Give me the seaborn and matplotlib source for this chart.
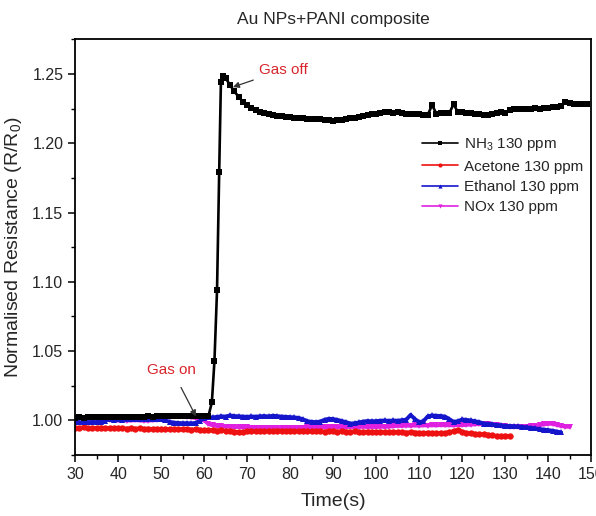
import numpy as np
import pandas as pd
import matplotlib
matplotlib.use("Agg")
import matplotlib.pyplot as plt
import seaborn as sns
from matplotlib.ticker import MultipleLocator

sns.set_style("ticks")
plt.rcParams['font.family'] = ['Liberation Sans', 'DejaVu Sans']
plt.rcParams['mathtext.fontset'] = 'custom'
plt.rcParams['mathtext.rm'] = 'Liberation Sans'

# ---------------- data ----------------
nh3_time = (list(range(30, 60)) + [60.0, 61.0, 61.8, 62.4, 63.0, 63.5, 63.9, 64.5]
            + list(range(65, 150)))
nh3_vals = [
    1.0020, 1.0022, 1.0021, 1.0023, 1.0022, 1.0024, 1.0023, 1.0022, 1.0024, 1.0025,
    1.0024, 1.0026, 1.0025, 1.0027, 1.0026, 1.0028, 1.0027, 1.0029, 1.0028, 1.0030,
    1.0029, 1.0031, 1.0030, 1.0032, 1.0031, 1.0033, 1.0032, 1.0034, 1.0033, 1.0032,
    1.0030, 1.0032, 1.0130, 1.0430, 1.0940, 1.1790, 1.2440, 1.2486,
    1.2470, 1.2420, 1.2375, 1.2335, 1.2300, 1.2275, 1.2255, 1.2240, 1.2228, 1.2218,
    1.2210, 1.2204, 1.2198, 1.2194, 1.2190, 1.2188, 1.2184, 1.2182, 1.2180, 1.2178,
    1.2176, 1.2178, 1.2174, 1.2170, 1.2166, 1.2163, 1.2165, 1.2170, 1.2175, 1.2180,
    1.2185, 1.2190, 1.2196, 1.2202, 1.2208, 1.2214, 1.2218, 1.2222, 1.2224, 1.2220,
    1.2222, 1.2218, 1.2214, 1.2212, 1.2208, 1.2210, 1.2206, 1.2204, 1.2276, 1.2212,
    1.2220, 1.2218, 1.2216, 1.2283, 1.2222, 1.2224, 1.2216, 1.2220, 1.2214, 1.2208,
    1.2206, 1.2204, 1.2210, 1.2218, 1.2222, 1.2216, 1.2240, 1.2246, 1.2244, 1.2248,
    1.2246, 1.2250, 1.2252, 1.2250, 1.2254, 1.2256, 1.2258, 1.2262, 1.2266, 1.2300,
    1.2290, 1.2286, 1.2284, 1.2282, 1.2280,
]

acetone_time = list(range(30, 132))
acetone_vals = [
    0.9948, 0.9946, 0.9950, 0.9944, 0.9947, 0.9945, 0.9949, 0.9943, 0.9946, 0.9944,
    0.9942, 0.9945, 0.9941, 0.9943, 0.9940, 0.9942, 0.9939, 0.9941, 0.9938, 0.9940,
    0.9937, 0.9939, 0.9936, 0.9940, 0.9938, 0.9935, 0.9937, 0.9934, 0.9936, 0.9933,
    0.9931, 0.9929, 0.9930, 0.9927, 0.9929, 0.9926, 0.9924, 0.9920, 0.9916, 0.9918,
    0.9921, 0.9924, 0.9922, 0.9925, 0.9923, 0.9926, 0.9924, 0.9927, 0.9925, 0.9923,
    0.9926, 0.9924, 0.9922, 0.9925, 0.9923, 0.9921, 0.9924, 0.9922, 0.9920, 0.9923,
    0.9921, 0.9919, 0.9922, 0.9920, 0.9918, 0.9921, 0.9919, 0.9917, 0.9920, 0.9918,
    0.9916, 0.9919, 0.9917, 0.9915, 0.9918, 0.9916, 0.9914, 0.9912, 0.9915, 0.9913,
    0.9911, 0.9909, 0.9912, 0.9910, 0.9908, 0.9911, 0.9909, 0.9914, 0.9924, 0.9932,
    0.9918, 0.9910, 0.9906, 0.9904, 0.9902, 0.9900, 0.9898, 0.9893, 0.9889, 0.9887,
    0.9890, 0.9888,
]

ethanol_time = list(range(30, 144))
ethanol_vals = [
    0.9988, 0.9986, 0.9989, 0.9987, 0.9990, 0.9988, 0.9991, 0.9998,
    1.0007, 1.0005, 1.0008, 1.0006, 1.0009, 1.0007, 1.0010, 1.0008, 1.0011, 1.0009, 1.0012, 1.0010,
    1.0008, 1.0000, 0.9990, 0.9984, 0.9982, 0.9980, 0.9981, 0.9979, 0.9982, 0.9995,
    1.0020, 1.0024, 1.0022, 1.0026, 1.0030, 1.0028, 1.0036, 1.0032, 1.0030, 1.0028,
    1.0026, 1.0029, 1.0027, 1.0030, 1.0032, 1.0029, 1.0034, 1.0031, 1.0028, 1.0026,
    1.0024, 1.0022, 1.0018, 1.0008, 0.9995, 0.9990, 0.9988, 0.9992, 1.0005, 1.0012,
    1.0010, 1.0004, 0.9996, 0.9988, 0.9978, 0.9980, 0.9986, 0.9992, 0.9996, 0.9994,
    0.9995, 0.9998, 1.0000, 0.9997, 1.0000, 0.9998, 1.0002, 1.0006, 1.0040, 1.0010,
    0.9988, 0.9995, 1.0030, 1.0036, 1.0034, 1.0032, 1.0028, 1.0010, 0.9990, 0.9995,
    1.0007, 1.0004, 1.0000, 0.9994, 0.9988, 0.9978, 0.9976, 0.9972, 0.9968, 0.9964,
    0.9962, 0.9960, 0.9958, 0.9957, 0.9954, 0.9950, 0.9947, 0.9942, 0.9938, 0.9934,
    0.9930, 0.9926, 0.9920, 0.9914,
]

nox_time = list(range(30, 146))
nox_vals = [
    1.0020, 1.0019, 1.0018, 1.0016, 1.0017, 1.0015, 1.0012, 1.0008, 1.0004, 1.0002,
    1.0000, 1.0001, 0.9999, 1.0000, 1.0002, 1.0000, 0.9998, 0.9999, 1.0001, 1.0003,
    1.0010, 1.0020, 1.0026, 1.0030, 1.0031, 1.0029, 1.0027, 1.0022, 1.0018, 1.0012,
    1.0000, 0.9975, 0.9964, 0.9960, 0.9958, 0.9956, 0.9954, 0.9952, 0.9953, 0.9951,
    0.9950, 0.9949, 0.9948, 0.9947, 0.9946, 0.9947, 0.9945, 0.9946, 0.9944, 0.9945,
    0.9946, 0.9948, 0.9947, 0.9949, 0.9950, 0.9948, 0.9950, 0.9951, 0.9952, 0.9950,
    0.9951, 0.9953, 0.9950, 0.9952, 0.9954, 0.9951, 0.9953, 0.9955, 0.9952, 0.9954,
    0.9952, 0.9955, 0.9953, 0.9956, 0.9958, 0.9962, 0.9960, 0.9963, 0.9961, 0.9964,
    0.9962, 0.9965, 0.9963, 0.9966, 0.9964, 0.9967, 0.9965, 0.9966, 0.9964, 0.9967,
    0.9966, 0.9968, 0.9970, 0.9972, 0.9974, 0.9976, 0.9972, 0.9968, 0.9964, 0.9960,
    0.9958, 0.9956, 0.9954, 0.9955, 0.9953, 0.9955, 0.9957, 0.9960, 0.9966, 0.9972,
    0.9976, 0.9975, 0.9968, 0.9960, 0.9955, 0.9954,
]

labels = ["NH$_3$ 130 ppm", "Acetone 130 ppm", "Ethanol 130 ppm", "NOx 130 ppm"]
colors = ["#000000", "#ee1111", "#1515cc", "#e020e0"]
markers = ["s", "o", "^", "v"]
widths = [1.9, 2.8, 2.8, 2.8]

# ---------------- figure ----------------
fig = plt.figure(figsize=(5.96, 5.16), dpi=100)
ax = fig.add_axes([0.126, 0.118, 0.866, 0.806])

series = [
    (nox_time, nox_vals, 3),
    (acetone_time, acetone_vals, 1),
    (ethanol_time, ethanol_vals, 2),
    (nh3_time, nh3_vals, 0),
]
for t, v, i in series:
    df = pd.DataFrame({"t": t, "v": v})
    sns.lineplot(data=df, x="t", y="v", ax=ax, color=colors[i], linewidth=widths[i],
                 marker=markers[i], markersize=4.6, markeredgewidth=0,
                 label=labels[i], zorder=3 if i == 0 else 2)

# legend in original order
h, l = ax.get_legend_handles_labels()
order = [l.index(lab) for lab in labels]
leg = ax.legend([h[k] for k in order], labels, loc="upper left",
                bbox_to_anchor=(0.645, 0.80), frameon=False, fontsize=11,
                handlelength=2.4, handletextpad=0.35, labelspacing=0.42)
for lh in leg.legend_handles:
    lh.set_linewidth(1.2)
    lh.set_markersize(3)

ax.set_xlim(30, 150)
ax.set_ylim(0.975, 1.275)
ax.xaxis.set_major_locator(MultipleLocator(10))
ax.xaxis.set_minor_locator(MultipleLocator(5))
ax.yaxis.set_major_locator(MultipleLocator(0.05))
ax.yaxis.set_minor_locator(MultipleLocator(0.025))
ax.yaxis.set_major_formatter(matplotlib.ticker.FormatStrFormatter("%.2f"))
ax.tick_params(which="major", direction="out", length=5, width=1.1,
               labelsize=11.5, color="black", top=False, right=False)
ax.tick_params(which="minor", direction="out", length=3, width=1.0,
               color="black", top=False, right=False)
for sp in ax.spines.values():
    sp.set_visible(True)
    sp.set_color("black")
    sp.set_linewidth(1.3)

ax.set_xlabel("Time(s)", fontsize=14, labelpad=8)
ax.set_ylabel("Normalised Resistance (R/R$_0$)", fontsize=14, labelpad=6)
ax.set_title("Au NPs+PANI composite", fontsize=12.5, pad=11)

ann_color = "#d8242b"
ax.annotate("Gas off", xy=(66.7, 1.2405), xytext=(72.8, 1.2530),
            fontsize=11, color=ann_color, va="center", ha="left",
            arrowprops=dict(arrowstyle="-|>", color="#333333", lw=0.9,
                            shrinkA=2, shrinkB=0, mutation_scale=9))
ax.annotate("Gas on", xy=(58.1, 1.0029), xytext=(52.5, 1.0366),
            fontsize=11, color=ann_color, va="center", ha="center",
            arrowprops=dict(arrowstyle="-|>", color="#333333", lw=0.9,
                            shrinkA=6, shrinkB=0, mutation_scale=9))

fig.savefig("out.png", dpi=100)
